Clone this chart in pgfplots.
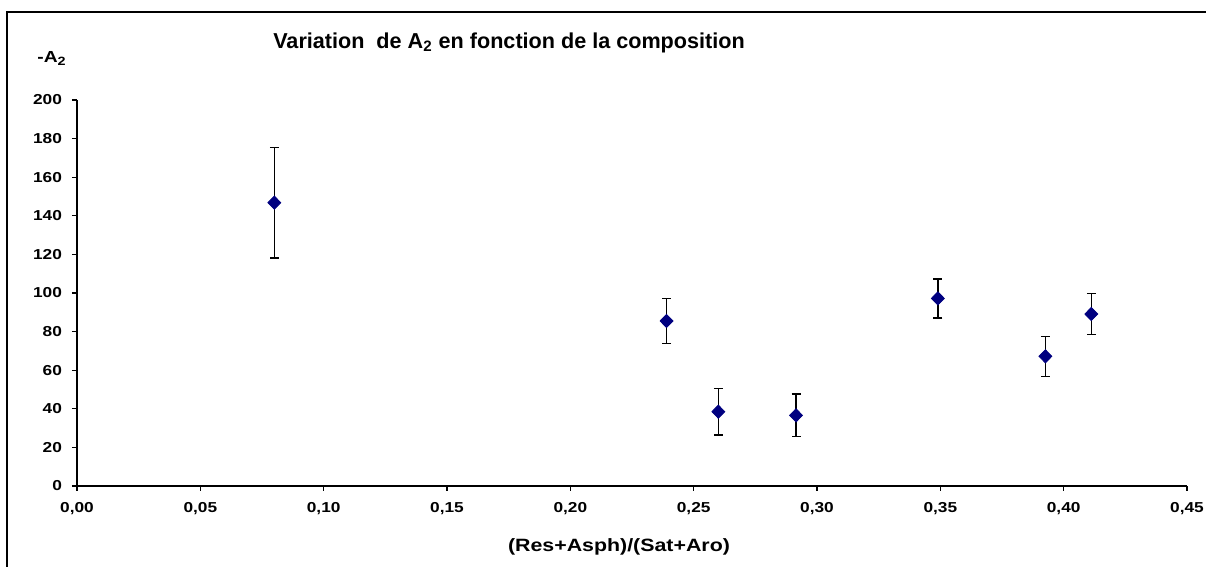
\documentclass[border=0pt]{standalone}
\usepackage{pgfplots}
\pgfplotsset{compat=1.18}
\usepackage{fontspec}
\setmainfont{Liberation Sans}[FakeStretch=1.2]
\newfontfamily\plainfont{Liberation Sans}
\definecolor{navy}{RGB}{0,0,128}
\pgfplotstableread{
x y e
0.0800 146.8 28.6
0.2390 85.5 11.5
0.2600 38.5 12.0
0.2915 36.6 11.0
0.3490 97.2 10.1
0.3926 67.2 10.3
0.4112 89.1 10.5
}\datatable
\begin{document}
\begin{tikzpicture}
\begin{axis}[
  at={(0pt,0pt)}, anchor=south west,
  scale only axis, width=555pt, height=193pt,
  xmin=0, xmax=0.45, ymin=0, ymax=200,
  axis x line*=bottom, axis y line*=left,
  axis line style={black, line width=0.8pt, -},
  xtick={0,0.05,0.10,0.15,0.20,0.25,0.30,0.35,0.40,0.45},
  ytick={0,20,40,60,80,100,120,140,160,180,200},
  tick align=outside, major tick length=2.5pt,
  tick style={black, line width=0.6pt},
  /pgf/number format/assume math mode=true,
  xticklabel style={yshift=-2pt, /pgf/number format/.cd, use comma, fixed, fixed zerofill, precision=2},
  yticklabel style={xshift=-1.5pt, /pgf/number format/.cd, fixed, precision=0},
  tick label style={font=\fontsize{7.2}{8}\selectfont\bfseries},
  clip=false,
]
\addplot[only marks, mark=diamond*, color=navy, mark size=3.3pt,
  mark options={xscale=1.3, fill=navy, draw=navy},
  error bars/.cd, y dir=both, y explicit,
  error bar style={black, line width=0.65pt},
  error mark options={rotate=90, mark size=2.25pt, black, line width=0.65pt}]
  table[x=x, y=y, y error=e]{\datatable};
\end{axis}
\node[anchor=base, font=\plainfont\fontsize{10.8}{12}\selectfont\bfseries] at (216pt,218.9pt) {Variation~ de A\textsubscript{2} en fonction de la composition};
\node[anchor=base, font=\fontsize{8}{9}\selectfont\bfseries] at (-12.5pt,211.5pt) {-A\textsubscript{2}};
\node[anchor=base, font=\fontsize{8.9}{10}\selectfont\bfseries] at (271pt,-33pt) {(Res+Asph)/(Sat+Aro)};
\draw[black, line width=0.8pt] (-35pt,-40.5pt) -- (-35pt,237pt) -- (564.5pt,237pt);
\pgfresetboundingbox
\useasboundingbox (-38.5pt,-40.5pt) rectangle (564.5pt,243pt);
\end{tikzpicture}
\end{document}
